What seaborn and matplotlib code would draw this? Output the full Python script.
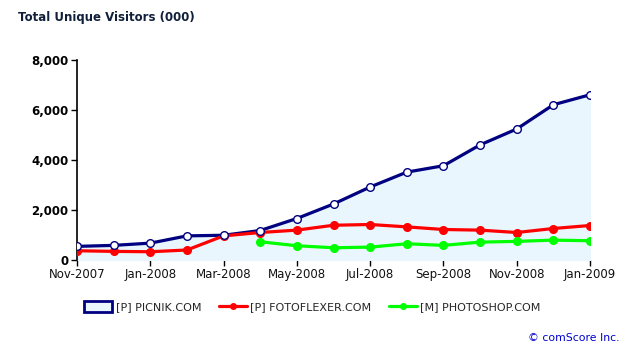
import pandas as pd
import numpy as np
import matplotlib
matplotlib.use('Agg')
import matplotlib.pyplot as plt
import seaborn as sns
from matplotlib.patches import Patch
from matplotlib.lines import Line2D

# monthly data, Nov-2007 .. Jan-2009
months = ['Nov-2007', 'Dec-2007', 'Jan-2008', 'Feb-2008', 'Mar-2008', 'Apr-2008',
          'May-2008', 'Jun-2008', 'Jul-2008', 'Aug-2008', 'Sep-2008', 'Oct-2008',
          'Nov-2008', 'Dec-2008', 'Jan-2009']
picnik = [545, 585, 675, 965, 990, 1180, 1660, 2240, 2920, 3515, 3770, 4605, 5240, 6210, 6610]
fotoflexer = [370, 345, 330, 400, 965, 1100, 1195, 1390, 1420, 1325, 1220, 1195, 1100, 1260, 1380]
photoshop = [np.nan, np.nan, np.nan, np.nan, np.nan, 730, 570, 490, 515, 650, 585, 715, 745, 795, 770]

series_names = ['[P] PICNIK.COM', '[P] FOTOFLEXER.COM', '[M] PHOTOSHOP.COM']
tick_months = months[::2]
yticks = [0, 2000, 4000, 6000, 8000]

df = pd.DataFrame({'month': np.arange(len(months)),
                   series_names[0]: picnik,
                   series_names[1]: fotoflexer,
                   series_names[2]: photoshop})
long_df = df.melt(id_vars='month', var_name='site', value_name='visitors').dropna()

sns.set_style('white')
plt.rcParams['font.family'] = ['DejaVu Sans']

fig = plt.figure(figsize=(6.31, 3.51), dpi=100)
ax = fig.add_axes([77 / 631, 1 - 260 / 351, (590 - 77) / 631, 200 / 351])

# light blue area under picnik
ax.fill_between(df['month'], 0, df[series_names[0]], color='#eaf6fd', zorder=1)

colors = {series_names[0]: '#000080', series_names[1]: '#ff0000', series_names[2]: '#00ff00'}
sns.lineplot(data=long_df, x='month', y='visitors', hue='site', palette=colors,
             linewidth=2.3, legend=False, ax=ax, zorder=3)

# markers
ax.plot(df['month'], df[series_names[1]], 'o', color='#ff0000', ms=5.5, zorder=4)
ax.plot(df['month'], df[series_names[2]], 'o', color='#00ff00', ms=5.5, zorder=4)
ax.plot(df['month'], df[series_names[0]], 'o', mfc='white', mec='#000080', mew=1.0,
        ms=5.5, zorder=5)

ax.set_xlim(0, len(months) - 1)
ax.set_ylim(0, 8000)
ax.set_xticks(np.arange(0, len(months), 2))
ax.set_xticklabels(tick_months, fontsize=8.5, color='#111111')
ax.set_yticks(yticks)
ax.set_yticklabels([f'{v:,}' for v in yticks], fontsize=8.5, fontweight='bold',
                   color='black')
ax.set_xlabel('')
ax.set_ylabel('')
for s in ['top', 'right', 'bottom']:
    ax.spines[s].set_visible(False)
ax.spines['left'].set_color('black')
ax.spines['left'].set_linewidth(1.2)
ax.tick_params(axis='both', direction='out', length=4, width=1, color='black', pad=2,
               bottom=True, left=True)
ax.set_facecolor('none')

fig.text(18 / 631, 1 - 17 / 351, 'Total Unique Visitors (000)', fontsize=8.5,
         fontweight='bold', color='#10203a', va='center', ha='left')

handles = [Patch(facecolor='#eaf6fd', edgecolor='#000080', linewidth=2),
           Line2D([0], [0], color='#ff0000', lw=2.3, marker='o', ms=4),
           Line2D([0], [0], color='#00ff00', lw=2.3, marker='o', ms=4)]
fig.legend(handles, series_names, loc='center', bbox_to_anchor=(0.495, 1 - 307 / 351),
           ncol=3, frameon=False, fontsize=8, handlelength=2.5, handleheight=1.1,
           columnspacing=1.6, handletextpad=0.3)

fig.text(620 / 631, 1 - 338 / 351, '© comScore Inc.', fontsize=7.8, color='#0000cc',
         ha='right', va='center')

fig.savefig('out.png', dpi=100)
